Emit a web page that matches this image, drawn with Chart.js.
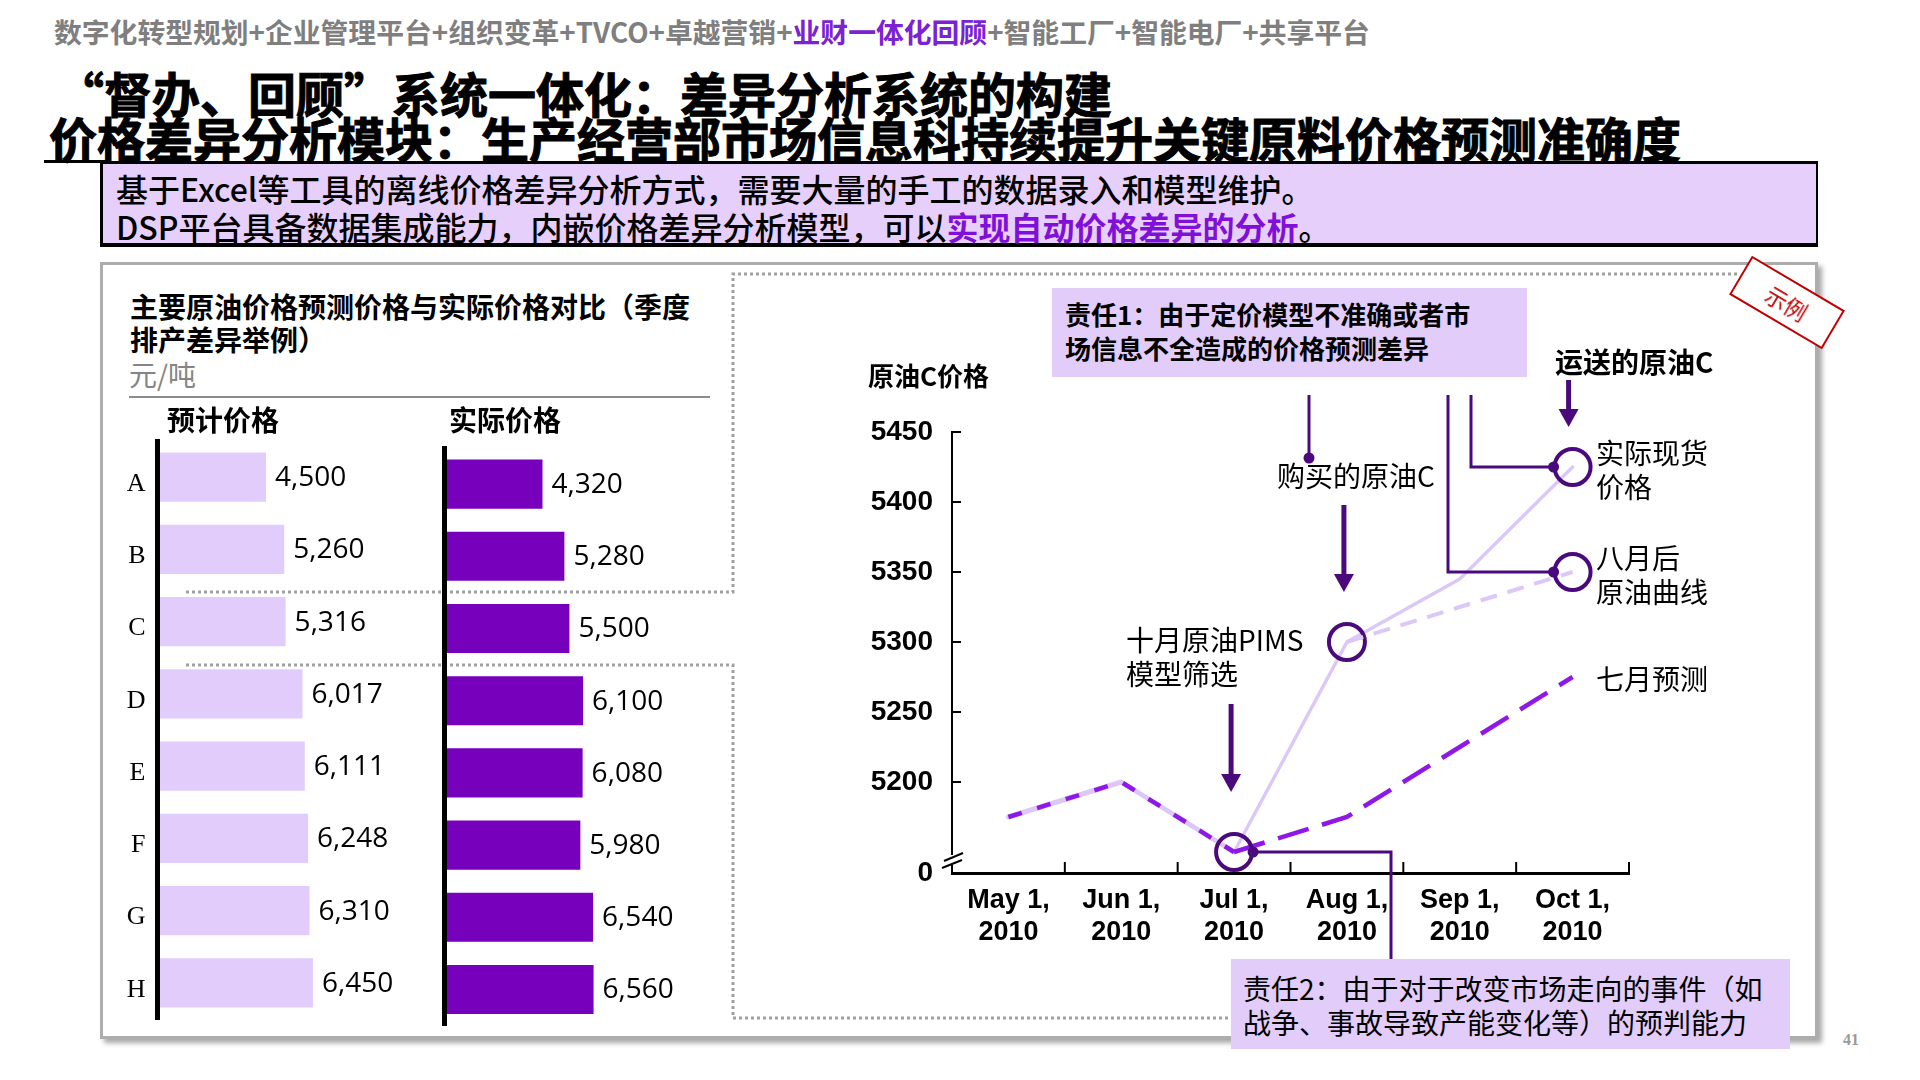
<!DOCTYPE html>
<html>
<head>
<meta charset="utf-8">
<script src="https://cdn.jsdelivr.net/npm/chart.js@4.4.1/dist/chart.umd.min.js"></script>
<style>
html, body { margin: 0; padding: 0; background: #fff; }
#page { position: relative; width: 1920px; height: 1080px; overflow: hidden; font-family: "Noto Sans CJK SC", "Liberation Sans", sans-serif; color: #000; }
.t { position: absolute; white-space: nowrap; line-height: 34px; z-index: 3; }
.b { font-weight: 700; }
canvas { position: absolute; z-index: 2; }
</style>
</head>
<body>
<div id="page">
  <!-- header -->
  <div class="t b" style="left:54px;top:14px;font-size:27.8px;color:#7f7f7f;">数字化转型规划+企业管理平台+组织变革+TVCO+卓越营销+<span style="color:#7b22d4">业财一体化回顾</span>+智能工厂+智能电厂+共享平台</div>
  <div class="t b" style="left:56px;top:66px;font-size:48px;line-height:52px;-webkit-text-stroke:1px #000;">“督办、回顾”系统一体化：差异分析系统的构建</div>
  <div class="t b" style="left:49px;top:111px;font-size:48px;line-height:52px;-webkit-text-stroke:1px #000;">价格差异分析模块：生产经营部市场信息科持续提升关键原料价格预测准确度</div>
  <div style="position:absolute;left:44px;top:160px;width:66px;height:3px;background:#000;"></div>

  <!-- purple summary box -->
  <div style="position:absolute;left:100px;top:161px;width:1718px;height:86px;box-sizing:border-box;background:#e6cffb;border:3px solid #000;border-bottom-width:4px;border-right-width:2px;"></div>
  <div class="t" style="left:116px;top:171px;font-size:32px;font-weight:500;">基于Excel等工具的离线价格差异分析方式，需要大量的手工的数据录入和模型维护。</div>
  <div class="t" style="left:116px;top:209px;font-size:32px;font-weight:500;">DSP平台具备数据集成能力，内嵌价格差异分析模型，可以<span style="color:#8010d8;font-weight:700;">实现自动价格差异的分析</span>。</div>

  <!-- main panel -->
  <div style="position:absolute;left:100px;top:262px;width:1718px;height:777px;box-sizing:border-box;border:3px solid #adadad;box-shadow:4px 4px 5px rgba(0,0,0,0.35);background:#fff;z-index:0;"></div>
  <svg style="position:absolute;left:0;top:0;z-index:1;" width="1920" height="1080">
    <g fill="none" stroke="#a0a0a0" stroke-width="3" stroke-dasharray="3 3">
      <polyline points="186,592 733,592 733,274 1737,274"/>
      <polyline points="186,665 733,665 733,1018 1240,1018"/>
    </g>
  </svg>

  <!-- left chart texts -->
  <div class="t b" style="left:130px;top:290px;font-size:28px;line-height:33px;">主要原油价格预测价格与实际价格对比（季度<br>排产差异举例）</div>
  <div class="t" style="left:129px;top:357px;font-size:28px;color:#858585;">元/吨</div>
  <div style="position:absolute;left:129px;top:396px;width:581px;height:2px;background:#8c8c8c;z-index:1;"></div>
  <div class="t b" style="left:167px;top:402px;font-size:28px;">预计价格</div>
  <div class="t b" style="left:449px;top:402px;font-size:28px;">实际价格</div>

  <canvas id="forecastBars" width="300" height="600" style="left:110px;top:430px;"></canvas>
  <canvas id="actualBars" width="320" height="600" style="left:420px;top:440px;"></canvas>

  <!-- right chart -->
  <canvas id="priceLine" width="1070" height="780" style="left:740px;top:280px;"></canvas>
  <div class="t b" style="left:868px;top:358px;font-size:26px;">原油C价格</div>

  <div style="position:absolute;left:1052px;top:288px;width:475px;height:89px;background:#e2ccfa;z-index:3;"></div>
  <div class="t b" style="left:1065px;top:297px;font-size:26px;">责任1：由于定价模型不准确或者市<br>场信息不全造成的价格预测差异</div>

  <div class="t b" style="left:1555px;top:344px;font-size:28px;">运送的原油C</div>
  <div class="t" style="left:1277px;top:458px;font-size:28px;">购买的原油C</div>
  <div class="t" style="left:1126px;top:622px;font-size:28px;">十月原油PIMS<br>模型筛选</div>
  <div class="t" style="left:1596px;top:435px;font-size:28px;">实际现货<br>价格</div>
  <div class="t" style="left:1596px;top:540px;font-size:28px;">八月后<br>原油曲线</div>
  <div class="t" style="left:1596px;top:661px;font-size:28px;">七月预测</div>

  <div style="position:absolute;left:1231px;top:959px;width:559px;height:90px;background:#e2ccfa;z-index:3;"></div>
  <div class="t" style="left:1243px;top:971px;font-size:28px;">责任2：由于对于改变市场走向的事件（如<br>战争、事故导致产能变化等）的预判能力</div>

  <!-- stamp and page number -->
  <div style="position:absolute;left:1733px;top:280px;width:108px;height:45px;box-sizing:border-box;border:2.5px solid #c00000;background:#fff;transform:rotate(30.6deg);z-index:4;color:#c00000;font-size:22px;line-height:40px;text-align:center;">示例</div>
  <div class="t b" style="left:1843px;top:1023px;font-size:16px;font-family:'Liberation Serif',serif;color:#9a9a9a;">41</div>
</div>

<script>
// bar charts: forecast vs actual price, yuan per ton
const barCategories = ['A', 'B', 'C', 'D', 'E', 'F', 'G', 'H'];
const forecastPrices = [4500, 5260, 5316, 6017, 6111, 6248, 6310, 6450];
const actualPrices = [4320, 5280, 5500, 6100, 6080, 5980, 6540, 6560];
const barMax = 10000;

// line chart: crude C price
const months = [['May 1,', '2010'], ['Jun 1,', '2010'], ['Jul 1,', '2010'], ['Aug 1,', '2010'], ['Sep 1,', '2010'], ['Oct 1,', '2010']];
const julyForecast = [5175, 5200, 5150, 5175, 5225, 5275];
const actualSpot = [5175, 5200, 5150, 5300, 5345, 5425];
const postAugCurve = [null, null, null, 5300, 5325, 5350];
const yTicks = [5200, 5250, 5300, 5350, 5400, 5450];
const yBreakLabel = '0';
const yMin = 5135;
const yMax = 5450;

const lavender = '#dcc8f8';
const violet = '#8e18e8';
const dark = '#4b0a7c';

/**
 * Value labels at the end of each bar
 */
const valueLabels = {
    id: 'valueLabels',
    afterDatasetsDraw(chart) {
        const ctx = chart.ctx;
        const values = chart.data.datasets[0].data;
        ctx.save();
        ctx.font = '28px "Open Sans", sans-serif';
        ctx.fillStyle = '#000';
        ctx.textBaseline = 'middle';
        chart.getDatasetMeta(0).data.forEach((bar, i) => {
            ctx.fillText(values[i].toLocaleString('en-US'), bar.x + 9, bar.y + 1);
        });
        ctx.restore();
    }
};

function barChart(id, values, color, showCats, yWidth, pad) {
    return new Chart(document.getElementById(id), {
        type: 'bar',
        data: {
            labels: barCategories,
            datasets: [{
                data: values,
                backgroundColor: color,
                barPercentage: 0.68,
                categoryPercentage: 1
            }]
        },
        options: {
            indexAxis: 'y',
            responsive: false,
            animation: false,
            events: [],
            layout: { padding: pad },
            plugins: { legend: { display: false }, tooltip: { enabled: false } },
            scales: {
                x: { display: false, min: 0, max: barMax },
                y: {
                    grid: { display: false, drawTicks: false },
                    border: { display: true, color: '#000', width: 5, z: 1 },
                    ticks: {
                        display: showCats,
                        color: '#000',
                        padding: 12,
                        labelOffset: 7,
                        font: { family: '"Liberation Serif", serif', size: 26 }
                    },
                    afterFit: s => {
                        s.width = yWidth;
                        s.paddingTop = 0;
                        s.paddingBottom = 0;
                    }
                }
            }
        },
        plugins: [valueLabels]
    });
}

barChart('forecastBars', forecastPrices, '#e2ccfb', true, 47.5, { top: 11, bottom: 11, left: 0, right: 11.5 });
barChart('actualBars', actualPrices, '#7600bc', false, 24, { top: 8, bottom: 14.4, left: 0, right: 68 });

/**
 * Inward ticks, axis break and the callout arrows of the line chart
 */
const lineAnnotations = {
    id: 'lineAnnotations',
    afterDraw(chart) {
        const ctx = chart.ctx;
        const a = chart.chartArea;
        const y = chart.scales.y;
        const ox = 740, oy = 280; // canvas position on the page
        const L = (x1, y1, x2, y2) => { ctx.beginPath(); ctx.moveTo(x1, y1); ctx.lineTo(x2, y2); ctx.stroke(); };
        ctx.save();

        // ticks
        ctx.strokeStyle = '#000';
        ctx.lineWidth = 2;
        yTicks.forEach(v => {
            const py = y.getPixelForValue(v);
            L(a.left, py, a.left + 9, py);
        });
        const step = (a.right - a.left) / months.length;
        for (let i = 1; i <= months.length; i++) {
            const px = a.left + step * i;
            L(px, a.bottom, px, a.bottom - 11);
        }

        // axis break
        ctx.fillStyle = '#fff';
        ctx.fillRect(a.left - 3, a.bottom - 18, 6, 10);
        L(a.left - 8, a.bottom - 12, a.left + 11, a.bottom - 20);
        L(a.left - 10, a.bottom - 5, a.left + 10, a.bottom - 13);

        // callouts
        ctx.strokeStyle = dark;
        ctx.fillStyle = dark;
        ctx.lineWidth = 3;
        const jul = chart.getDatasetMeta(0).data[2];
        const aug = chart.getDatasetMeta(1).data[3];
        const octA = chart.getDatasetMeta(1).data[5];
        const octP = chart.getDatasetMeta(2).data[5];
        const r = 19;
        const dot = (x, yy) => { ctx.beginPath(); ctx.arc(x, yy, 5.5, 0, Math.PI * 2); ctx.fill(); };
        const arrow = (x, y0, tip) => {
            ctx.lineWidth = 5;
            L(x, y0, x, tip - 14);
            ctx.beginPath();
            ctx.moveTo(x - 10, tip - 18);
            ctx.lineTo(x + 10, tip - 18);
            ctx.lineTo(x, tip);
            ctx.closePath();
            ctx.fill();
            ctx.lineWidth = 3;
        };

        L(1309 - ox, 395 - oy, 1309 - ox, 458 - oy);
        dot(1309 - ox, 458 - oy);

        ctx.beginPath();
        ctx.moveTo(1448 - ox, 395 - oy);
        ctx.lineTo(1448 - ox, octP.y);
        ctx.lineTo(octP.x - r, octP.y);
        ctx.stroke();
        dot(octP.x - r, octP.y);

        ctx.beginPath();
        ctx.moveTo(1471 - ox, 395 - oy);
        ctx.lineTo(1471 - ox, octA.y);
        ctx.lineTo(octA.x - r, octA.y);
        ctx.stroke();
        dot(octA.x - r, octA.y);

        ctx.beginPath();
        ctx.moveTo(jul.x + r, jul.y);
        ctx.lineTo(1391 - ox, jul.y);
        ctx.lineTo(1391 - ox, 959 - oy);
        ctx.stroke();
        dot(jul.x + r, jul.y);

        arrow(aug.x - 3, 505 - oy, aug.y - 50);
        arrow(octA.x - 4, 380 - oy, octA.y - 40);
        arrow(jul.x - 3, 704 - oy, jul.y - 60);

        ctx.restore();
    }
};

const tickFont = { family: '"Liberation Sans", Arial, sans-serif', weight: 'bold' };

new Chart(document.getElementById('priceLine'), {
    type: 'line',
    data: {
        labels: months,
        datasets: [{
            label: '七月预测',
            data: julyForecast,
            order: 0,
            borderColor: violet,
            borderWidth: 4.5,
            segment: { borderDash: c => c.p0DataIndex < 2 ? [14, 16] : [32, 14] },
            pointRadius: [0, 0, 18, 0, 0, 0],
            pointBorderWidth: 4,
            pointBorderColor: dark,
            pointBackgroundColor: 'rgba(0,0,0,0)',
            clip: false
        }, {
            label: '实际现货价格',
            data: actualSpot,
            order: 2,
            borderColor: lavender,
            borderCapStyle: 'round',
            borderJoinStyle: 'round',
            segment: { borderWidth: c => c.p0DataIndex < 2 ? 5 : 3.5 },
            pointRadius: [0, 0, 0, 18, 0, 18],
            pointBorderWidth: 4,
            pointBorderColor: dark,
            pointBackgroundColor: 'rgba(0,0,0,0)',
            clip: false
        }, {
            label: '八月后原油曲线',
            data: postAugCurve,
            order: 1,
            borderColor: lavender,
            borderWidth: 4,
            borderDash: [17, 11],
            pointRadius: [0, 0, 0, 0, 0, 18],
            pointBorderWidth: 4,
            pointBorderColor: dark,
            pointBackgroundColor: 'rgba(0,0,0,0)',
            clip: false
        }]
    },
    options: {
        responsive: false,
        animation: false,
        events: [],
        layout: { padding: { top: 152, right: 181, bottom: 87, left: 0 } },
        plugins: { legend: { display: false }, tooltip: { enabled: false } },
        scales: {
            x: {
                offset: true,
                grid: { display: false, drawTicks: false },
                border: { display: true, color: '#000', width: 3 },
                ticks: {
                    color: '#000',
                    padding: 11,
                    maxRotation: 0,
                    autoSkip: false,
                    font: Object.assign({ size: 27, lineHeight: 1.2 }, tickFont)
                },
                afterFit: s => { s.height = 100; }
            },
            y: {
                min: yMin,
                max: yMax,
                grid: { display: false, drawTicks: false },
                border: { display: true, color: '#000', width: 2 },
                afterBuildTicks: s => { s.ticks = [yMin].concat(yTicks).map(v => ({ value: v })); },
                ticks: {
                    color: '#000',
                    padding: 19,
                    autoSkip: false,
                    font: Object.assign({ size: 28 }, tickFont),
                    callback: v => v === yMin ? yBreakLabel : String(v)
                },
                afterFit: s => { s.width = 212; }
            }
        }
    },
    plugins: [lineAnnotations]
});
</script>
</body>
</html>
